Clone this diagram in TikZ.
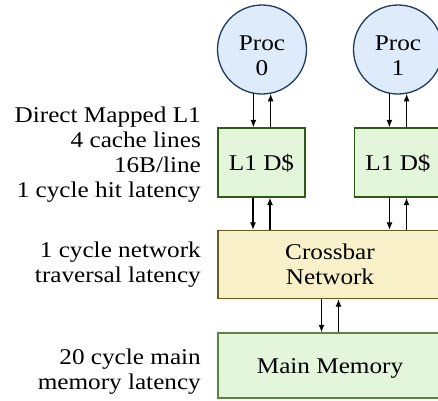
\documentclass[tikz,border=0pt]{standalone}
\usepackage{fontspec}
\setmainfont{Liberation Serif}[FakeStretch=1.12]
\usetikzlibrary{arrows.meta}
\definecolor{procfill}{HTML}{DDEBFA}
\definecolor{procdraw}{HTML}{1F3A5F}
\definecolor{cfill}{HTML}{E3F5DA}
\definecolor{cdraw}{HTML}{2F5A14}
\definecolor{xfill}{HTML}{F7F0C9}
\definecolor{xdraw}{HTML}{6B5A1E}
\definecolor{mdraw}{HTML}{5B8247}
\tikzset{
  proc/.style={circle, draw=procdraw, fill=procfill, line width=1.3pt, minimum size=89pt, inner sep=0pt},
  proctext/.style={align=center, inner sep=0pt},
  cachebox/.style={rectangle, draw=cdraw, fill=cfill, line width=1.3pt, minimum width=87pt, minimum height=69pt, inner sep=0pt, text height=15pt, text depth=0pt},
  xbar/.style={rectangle, draw=xdraw, fill=xfill, line width=1.3pt, minimum width=224pt, minimum height=68pt, inner sep=0pt, align=center},
  mem/.style={rectangle, draw=mdraw, fill=cfill, line width=1.3pt, minimum width=224pt, minimum height=65pt, inner sep=0pt, text height=15pt, text depth=0pt},
  arr/.style={-{Latex[length=7.5pt,width=6pt]}, line width=1.2pt, black},
  note/.style={align=right, anchor=base east, inner sep=0pt}
}
\begin{document}
\begin{tikzpicture}[x=1pt, y=-1pt, font=\fontsize{22.5}{25}\selectfont]
\useasboundingbox (0,0) rectangle (438,400);
\node[proc] (p0) at (262,49.5) {};
\node[proc] (p1) at (398,49.5) {};
\node[proctext] (p0t) at (262,56) {Proc\\0};
\node[proctext] (p1t) at (398,56) {Proc\\1};
\node[cachebox] (c0) at (261.5,162.5) {L1 D\$};
\node[cachebox] (c1) at (398,162.5) {L1 D\$};
\node[xbar] (xb) at (330,264.5) {Crossbar\\Network};
\node[mem] (mm) at (330,365.5) {Main Memory};
% proc <-> L1
\foreach \p/\c in {p0/c0, p1/c1}{
  \draw[arr] (\p.259) -- (\p.259 |- \c.north);
  \draw[arr] (\p.281 |- \c.north) -- (\p.281);
  \draw[arr] ([xshift=-8.5pt]\c.south) -- ([xshift=-8.5pt]\c.south |- xb.north);
  \draw[arr] ([xshift=8.5pt]\c.south |- xb.north) -- ([xshift=8.5pt]\c.south);
}
\draw[arr] ([xshift=-8.5pt]xb.south) -- ([xshift=-8.5pt]xb.south |- mm.north);
\draw[arr] ([xshift=8.5pt]xb.south |- mm.north) -- ([xshift=8.5pt]xb.south);
% notes
\node[note] (n1) at (201,197.5) {Direct Mapped L1\\4 cache lines\\16B/line\\1 cycle hit latency};
\node[note] (n2) at (201,282.5) {1 cycle network\\traversal latency};
\node[note] (n3) at (201,389.5) {20 cycle main\\memory latency};
\end{tikzpicture}
\end{document}
